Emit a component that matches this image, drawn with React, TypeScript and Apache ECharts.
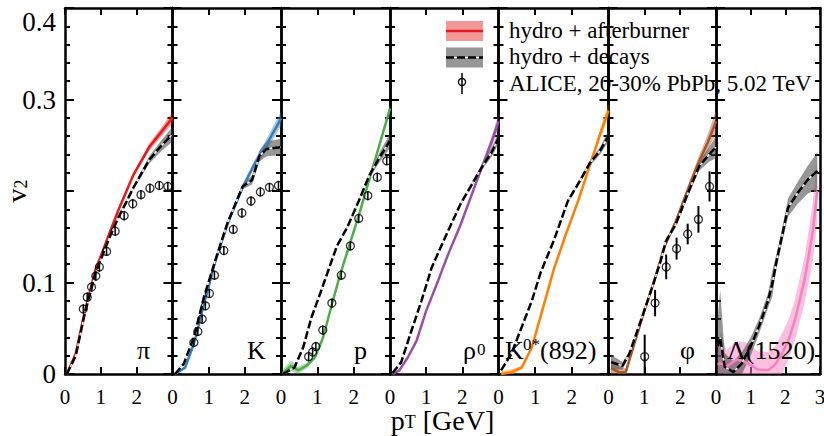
import React, { useEffect, useRef } from 'react';
import * as echarts from 'echarts';

const FONT = "'Liberation Serif', 'Times New Roman', serif";

// ---------- data (pT in GeV, v2) ----------
// pi
const piAbPt = [0.05, 0.3, 0.55, 0.85, 1.05, 1.25, 1.5, 1.9, 2.35, 2.7, 3.0];
const piAbV2 = [0.0, 0.022, 0.068, 0.114, 0.134, 0.155, 0.18, 0.217, 0.248, 0.265, 0.28];
const piAbErr = [0.001, 0.001, 0.001, 0.001, 0.001, 0.002, 0.002, 0.002, 0.004, 0.005, 0.006];
const piDcPt = [0.05, 0.3, 0.55, 0.85, 1.05, 1.25, 1.5, 1.7, 1.9, 2.35, 2.7, 3.0];
const piDcV2 = [0.0, 0.02, 0.066, 0.11, 0.13, 0.15, 0.172, 0.187, 0.203, 0.234, 0.25, 0.262];
const piDcErr = [0.001, 0.001, 0.001, 0.001, 0.001, 0.001, 0.002, 0.002, 0.002, 0.004, 0.006, 0.008];
const piDataPt = [0.51, 0.62, 0.74, 0.86, 0.96, 1.16, 1.4, 1.65, 1.89, 2.12, 2.37, 2.63, 2.87];
const piDataV2 = [0.071, 0.084, 0.095, 0.107, 0.117, 0.134, 0.156, 0.173, 0.186, 0.196, 0.203, 0.206, 0.205];
const piDataErr = [0.005, 0.005, 0.005, 0.005, 0.005, 0.005, 0.005, 0.005, 0.005, 0.005, 0.005, 0.005, 0.005];

// K
const kAbPt = [0.07, 0.35, 0.59, 0.87, 1.19, 1.52, 1.94, 2.26, 2.59, 3.0];
const kAbV2 = [0.0, 0.007, 0.033, 0.076, 0.124, 0.164, 0.204, 0.229, 0.25, 0.279];
const kAbErr = [0.001, 0.001, 0.001, 0.001, 0.001, 0.002, 0.003, 0.004, 0.006, 0.008];
const kDcPt = [0.07, 0.31, 0.59, 0.87, 1.19, 1.52, 1.94, 2.2, 2.4, 2.6, 3.0];
const kDcV2 = [0.0, 0.011, 0.04, 0.084, 0.125, 0.165, 0.205, 0.212, 0.238, 0.246, 0.248];
const kDcErr = [0.001, 0.001, 0.001, 0.001, 0.001, 0.002, 0.003, 0.005, 0.006, 0.008, 0.009];
const kDataPt = [0.59, 0.7, 0.82, 0.91, 1.02, 1.16, 1.42, 1.68, 1.92, 2.17, 2.43, 2.68, 2.93];
const kDataV2 = [0.0345, 0.0465, 0.06, 0.0745, 0.088, 0.108, 0.135, 0.158, 0.176, 0.189, 0.199, 0.204, 0.206];
const kDataErr = [0.005, 0.005, 0.005, 0.005, 0.005, 0.005, 0.005, 0.005, 0.005, 0.005, 0.005, 0.005, 0.005];

// p
const pAbPt = [0.05, 0.28, 0.47, 0.7, 0.93, 1.16, 1.4, 1.63, 1.91, 2.19, 2.42, 2.7, 3.0];
const pAbV2 = [0.001, 0.009, 0.004, 0.009, 0.018, 0.04, 0.076, 0.109, 0.144, 0.18, 0.211, 0.249, 0.29];
const pAbErr = [0.004, 0.006, 0.004, 0.003, 0.002, 0.001, 0.001, 0.001, 0.001, 0.002, 0.002, 0.003, 0.004];
const pDcPt = [0.05, 0.37, 0.61, 0.84, 1.07, 1.3, 1.54, 1.82, 2.14, 2.42, 2.7, 3.0];
const pDcV2 = [0.0, 0.007, 0.029, 0.062, 0.087, 0.113, 0.14, 0.16, 0.189, 0.216, 0.236, 0.255];
const pDcErr = [0.001, 0.001, 0.001, 0.001, 0.001, 0.001, 0.001, 0.002, 0.002, 0.003, 0.005, 0.008];
const pDataPt = [0.76, 0.87, 0.96, 1.15, 1.4, 1.66, 1.91, 2.14, 2.39, 2.65, 2.91];
const pDataV2 = [0.019, 0.024, 0.03, 0.048, 0.0775, 0.108, 0.14, 0.17, 0.195, 0.215, 0.233];
const pDataErr = [0.005, 0.005, 0.005, 0.005, 0.005, 0.005, 0.005, 0.005, 0.005, 0.005, 0.005];

// rho0
const rhoAbPt = [0.07, 0.26, 0.49, 0.73, 1.0, 1.33, 1.61, 1.94, 2.26, 2.54, 2.82, 3.0];
const rhoAbV2 = [0.0, 0.004, 0.018, 0.036, 0.069, 0.102, 0.131, 0.162, 0.196, 0.226, 0.255, 0.276];
const rhoAbErr = [0.001, 0.001, 0.001, 0.001, 0.001, 0.001, 0.001, 0.002, 0.002, 0.003, 0.006, 0.008];
const rhoDcPt = [0.07, 0.31, 0.59, 0.87, 1.15, 1.52, 1.94, 2.26, 2.54, 2.82, 3.0];
const rhoDcV2 = [0.001, 0.013, 0.047, 0.08, 0.116, 0.149, 0.185, 0.207, 0.226, 0.243, 0.258];
const rhoDcErr = [0.001, 0.001, 0.001, 0.001, 0.001, 0.001, 0.002, 0.002, 0.003, 0.005, 0.006];

// K0*(892)
const ksAbPt = [0.07, 0.35, 0.63, 0.91, 1.19, 1.52, 1.84, 2.17, 2.5, 2.77, 3.0];
const ksAbV2 = [0.0, 0.002, 0.007, 0.029, 0.069, 0.116, 0.153, 0.189, 0.229, 0.262, 0.288];
const ksAbErr = [0.003, 0.003, 0.002, 0.001, 0.001, 0.001, 0.001, 0.002, 0.003, 0.005, 0.007];
const ksDcPt = [0.07, 0.35, 0.63, 0.91, 1.15, 1.52, 1.89, 2.22, 2.5, 2.77, 3.0];
const ksDcV2 = [0.004, 0.022, 0.051, 0.08, 0.111, 0.147, 0.189, 0.211, 0.231, 0.244, 0.26];
const ksDcErr = [0.001, 0.001, 0.001, 0.001, 0.001, 0.001, 0.002, 0.002, 0.003, 0.004, 0.006];

// phi
const phiAbPt = [0.07, 0.3, 0.48, 0.72, 1.0, 1.28, 1.55, 1.88, 2.16, 2.49, 2.77, 3.0];
const phiAbV2 = [0.006, 0.002, 0.002, 0.033, 0.069, 0.102, 0.138, 0.167, 0.196, 0.229, 0.253, 0.276];
const phiAbErr = [0.01, 0.006, 0.004, 0.002, 0.002, 0.002, 0.002, 0.003, 0.004, 0.006, 0.009, 0.012];
const phiDcPt = [0.07, 0.39, 0.58, 0.9, 1.23, 1.46, 1.6, 1.88, 2.2, 2.53, 2.81, 3.0];
const phiDcV2 = [0.013, 0.009, 0.022, 0.058, 0.096, 0.124, 0.145, 0.164, 0.196, 0.227, 0.24, 0.248];
const phiDcErr = [0.008, 0.004, 0.002, 0.002, 0.002, 0.002, 0.002, 0.003, 0.004, 0.005, 0.008, 0.012];
const phiDataPt = [1.01, 1.3, 1.61, 1.9, 2.21, 2.51, 2.82];
const phiDataV2 = [0.019, 0.0775, 0.117, 0.137, 0.153, 0.169, 0.205];
const phiDataErr = [0.024, 0.0145, 0.0135, 0.012, 0.0113, 0.0145, 0.0165];

// Lambda(1520)
const laAbPt = [0.05, 0.12, 0.3, 0.6, 0.9, 1.2, 1.5, 1.7, 1.9, 2.1, 2.27, 2.55, 2.79, 2.92];
const laAbV2 = [0.01, 0.012, 0.008, 0.016, 0.012, 0.005, 0.004, 0.01, 0.022, 0.038, 0.058, 0.102, 0.155, 0.2];
const laAbErr = [0.015, 0.035, 0.018, 0.02, 0.022, 0.02, 0.02, 0.02, 0.022, 0.022, 0.022, 0.025, 0.032, 0.035];
const laDcPt = [0.05, 0.12, 0.25, 0.5, 0.75, 1.0, 1.25, 1.5, 1.62, 1.75, 1.9, 2.08, 2.36, 2.64, 2.92];
const laDcV2 = [0.03, 0.04, 0.008, 0.002, 0.012, 0.03, 0.053, 0.08, 0.098, 0.124, 0.15, 0.182, 0.198, 0.212, 0.222];
const laDcErr = [0.03, 0.052, 0.015, 0.012, 0.012, 0.01, 0.008, 0.008, 0.014, 0.008, 0.008, 0.01, 0.012, 0.015, 0.02];

const lineColors = ['#e41a1c', '#377eb8', '#4daf4a', '#984ea3', '#ff7f00', '#a65628', '#f781bf'];
const bandColors = [
  'rgba(228,26,28,0.45)', 'rgba(55,126,184,0.45)', 'rgba(77,175,74,0.45)', 'rgba(152,78,163,0.45)',
  'rgba(255,127,0,0.45)', 'rgba(166,86,40,0.45)', 'rgba(247,129,191,0.5)',
];
const grayBand = 'rgba(64,64,64,0.55)';

const xTickLabels = ['0', '1', '2', '3'];
const yLabelValues = [0, 0.1, 0.3, 0.4];
const yTickLabels = ['0', '0.1', '0.3', '0.4'];
const legendTexts = ['hydro + afterburner', 'hydro + decays', 'ALICE, 20-30% PbPb, 5.02 TeV'];

// layout (pixels)
const panelLefts = [65, 172.5, 281, 390, 498.5, 608.5, 716];
const panelRightEnd = 820;

type Set = { pt: number[]; v2: number[]; err: number[] };
type Panel = { ab: Set; dc: Set; data: Set | null };

const panels: Panel[] = [
  { ab: { pt: piAbPt, v2: piAbV2, err: piAbErr }, dc: { pt: piDcPt, v2: piDcV2, err: piDcErr }, data: { pt: piDataPt, v2: piDataV2, err: piDataErr } },
  { ab: { pt: kAbPt, v2: kAbV2, err: kAbErr }, dc: { pt: kDcPt, v2: kDcV2, err: kDcErr }, data: { pt: kDataPt, v2: kDataV2, err: kDataErr } },
  { ab: { pt: pAbPt, v2: pAbV2, err: pAbErr }, dc: { pt: pDcPt, v2: pDcV2, err: pDcErr }, data: { pt: pDataPt, v2: pDataV2, err: pDataErr } },
  { ab: { pt: rhoAbPt, v2: rhoAbV2, err: rhoAbErr }, dc: { pt: rhoDcPt, v2: rhoDcV2, err: rhoDcErr }, data: null },
  { ab: { pt: ksAbPt, v2: ksAbV2, err: ksAbErr }, dc: { pt: ksDcPt, v2: ksDcV2, err: ksDcErr }, data: null },
  { ab: { pt: phiAbPt, v2: phiAbV2, err: phiAbErr }, dc: { pt: phiDcPt, v2: phiDcV2, err: phiDcErr }, data: { pt: phiDataPt, v2: phiDataV2, err: phiDataErr } },
  { ab: { pt: laAbPt, v2: laAbV2, err: laAbErr }, dc: { pt: laDcPt, v2: laDcV2, err: laDcErr }, data: null },
];

function txt(x: number, y: number, text: string, size: number, extra: any = {}) {
  return {
    type: 'text',
    x,
    y,
    silent: true,
    z: 10,
    style: {
      text,
      fontSize: size,
      fontFamily: FONT,
      fill: '#000',
      align: 'left',
      textAlign: 'left',
      verticalAlign: 'middle',
      textVerticalAlign: 'middle',
      ...extra,
    },
  };
}

function buildOption() {
  const grid: any[] = [];
  const xAxis: any[] = [];
  const yAxis: any[] = [];
  const series: any[] = [];
  const axisLine = { show: true, onZero: false, lineStyle: { color: '#000', width: 2.5 } };

  panels.forEach((p, i) => {
    const left = panelLefts[i];
    const right = i < 6 ? panelLefts[i + 1] : panelRightEnd;
    grid.push({ left, top: 8, width: right - left, height: 366, containLabel: false, outerBoundsMode: 'none' });
    const baseX = {
      type: 'value', gridIndex: i, min: 0, max: 3, interval: 1,
      axisLine, splitLine: { show: false },
      axisTick: { show: true, inside: true, length: 7, lineStyle: { color: '#000', width: 2 } },
    };
    xAxis.push({
      ...baseX, position: 'bottom',
      axisLabel: {
        show: true, fontSize: 21, lineHeight: 18, color: '#000', fontFamily: FONT, margin: 14,
        showMinLabel: true, showMaxLabel: i === 6,
        formatter: (v: number) => xTickLabels[Math.round(v)],
      },
    });
    xAxis.push({ ...baseX, position: 'top', axisLabel: { show: false } });
    const baseY = {
      type: 'value', gridIndex: i, min: 0, max: 0.4, interval: 0.1,
      axisLine, splitLine: { show: false }, minorSplitLine: { show: false },
      axisTick: { show: true, inside: true, length: 9, lineStyle: { color: '#000', width: 2 } },
      minorTick: { show: true, splitNumber: 5, length: 5, lineStyle: { color: '#000', width: 2 } },
    };
    yAxis.push({
      ...baseY, position: 'left',
      ...(i === 0
        ? {
            name: '{a|v}{b|2}',
            nameLocation: 'middle',
            nameRotate: 90,
            nameGap: 35.5,
            nameMoveOverlap: false,
            nameTextStyle: {
              color: '#000',
              fontFamily: FONT,
              rich: {
                a: { fontSize: 28, lineHeight: 26, fontFamily: FONT, color: '#000' },
                b: { fontSize: 18, lineHeight: 10, fontFamily: FONT, color: '#000', verticalAlign: 'bottom' },
              },
            },
          }
        : {}),
      axisLabel: i === 0
        ? {
            show: true, fontSize: 27, color: '#000', fontFamily: FONT, margin: 9,
            customValues: yLabelValues,
            verticalAlignMaxLabel: 'top',
            formatter: (v: number) => {
              const idx = yLabelValues.findIndex((u) => Math.abs(u - v) < 1e-9);
              return idx >= 0 ? yTickLabels[idx] : '';
            },
          }
        : { show: false },
    });
    yAxis.push({ ...baseY, position: 'right', axisLabel: { show: false } });

    const xi = 2 * i;
    const band = (s: Set, color: string) => ({
      type: 'custom', xAxisIndex: xi, yAxisIndex: xi, silent: true, z: 1, clip: true,
      encode: { x: 0, y: 1 },
      data: s.pt.map((x, k) => [x, s.v2[k] - s.err[k], s.v2[k] + s.err[k]]),
      renderItem: (params: any, api: any) => {
        if (params.dataIndex !== 0) return null;
        const upper = s.pt.map((x, k) => api.coord([x, s.v2[k] + s.err[k]]));
        const lower = s.pt.map((x, k) => api.coord([x, s.v2[k] - s.err[k]])).reverse();
        return { type: 'polygon', shape: { points: upper.concat(lower) }, style: { fill: color } };
      },
    });
    series.push(band(p.ab, bandColors[i]));
    series.push(band(p.dc, grayBand));
    series.push({
      type: 'line', xAxisIndex: xi, yAxisIndex: xi, symbol: 'none', silent: true, z: 2,
      lineStyle: { color: lineColors[i], width: 2.5 },
      data: p.ab.pt.map((x, k) => [x, p.ab.v2[k]]),
    });
    series.push({
      type: 'line', xAxisIndex: xi, yAxisIndex: xi, symbol: 'none', silent: true, z: 3,
      lineStyle: { color: '#ffffff', width: 1.2 },
      data: p.dc.pt.map((x, k) => [x, p.dc.v2[k]]),
    });
    series.push({
      type: 'line', xAxisIndex: xi, yAxisIndex: xi, symbol: 'none', silent: true, z: 3,
      lineStyle: { color: '#000', width: 2.5, type: [8, 3] },
      data: p.dc.pt.map((x, k) => [x, p.dc.v2[k]]),
    });
    if (p.data) {
      const d = p.data;
      series.push({
        type: 'custom', xAxisIndex: xi, yAxisIndex: xi, silent: true, z: 4, clip: true,
        encode: { x: 0, y: 1 },
        data: d.pt.map((x, k) => [x, d.v2[k], d.err[k]]),
        renderItem: (_params: any, api: any) => {
          const x = api.value(0);
          const y = api.value(1);
          const e = api.value(2);
          const a = api.coord([x, y - e]);
          const b = api.coord([x, y + e]);
          return {
            type: 'line',
            shape: { x1: a[0], y1: a[1], x2: b[0], y2: b[1] },
            style: { stroke: '#000', lineWidth: i === 5 ? 2 : 1.5 },
          };
        },
      });
      series.push({
        type: 'scatter', xAxisIndex: xi, yAxisIndex: xi, silent: true, z: 5,
        symbol: 'circle', symbolSize: 8,
        itemStyle: { color: 'rgba(255,255,255,0)', borderColor: '#000', borderWidth: 1.3 },
        data: d.pt.map((x, k) => [x, d.v2[k]]),
      });
    }
  });

  const richBase = { fontFamily: FONT, fill: '#000' };
  const graphic: any[] = [
    // legend
    { type: 'rect', shape: { x: 446, y: 21, width: 37, height: 20 }, style: { fill: bandColors[0] }, z: 10 },
    { type: 'line', shape: { x1: 446, y1: 31, x2: 483, y2: 31 }, style: { stroke: lineColors[0], lineWidth: 2.5 }, z: 10 },
    { type: 'rect', shape: { x: 446, y: 47.5, width: 37, height: 20 }, style: { fill: grayBand }, z: 10 },
    { type: 'line', shape: { x1: 446, y1: 57.5, x2: 483, y2: 57.5 }, style: { stroke: '#fff', lineWidth: 1.2 }, z: 10 },
    { type: 'line', shape: { x1: 446, y1: 57.5, x2: 483, y2: 57.5 }, style: { stroke: '#000', lineWidth: 2.5, lineDash: [8, 3] }, z: 10 },
    { type: 'line', shape: { x1: 462, y1: 73, x2: 462, y2: 94 }, style: { stroke: '#000', lineWidth: 1.5 }, z: 10 },
    { type: 'circle', shape: { cx: 462, cy: 82, r: 3.6 }, style: { fill: 'rgba(255,255,255,0)', stroke: '#000', lineWidth: 1.3 }, z: 10 },
    txt(509, 30, legendTexts[0], 23),
    txt(509, 56.5, legendTexts[1], 23),
    txt(509, 83, legendTexts[2], 23),
    // panel labels
    txt(137, 350.7, 'π', 26),
    txt(247, 350.7, 'K', 26),
    txt(354, 350.7, 'p', 26),
    txt(463, 350.7, 'ρ', 26),
    txt(477, 349.5, '0', 17),
    txt(505, 350.7, 'K', 26),
    txt(523, 344, '0*', 17),
    txt(540, 350.7, '(892)', 26),
    txt(680, 350.7, 'φ', 26),
    txt(727, 350.7, 'Λ(1520)', 26),
    // x axis title
    {
      type: 'text', x: 442.5, y: 420, silent: true, z: 10,
      style: {
        text: '{a|p}{b|T}{a| [GeV]}',
        align: 'center', textAlign: 'center', verticalAlign: 'middle', textVerticalAlign: 'middle',
        fill: '#000', fontFamily: FONT, fontSize: 28,
        rich: {
          a: { ...richBase, fontSize: 28, lineHeight: 22 },
          b: { ...richBase, fontSize: 18, lineHeight: 16, verticalAlign: 'bottom' },
        },
      },
    },
  ];

  return {
    animation: false,
    backgroundColor: '#ffffff',
    textStyle: { fontFamily: FONT },
    grid,
    xAxis,
    yAxis,
    series,
    graphic,
  };
}

export default function App() {
  const ref = useRef<HTMLDivElement>(null);
  useEffect(() => {
    document.body.style.margin = '0';
    if (!ref.current) return;
    const chart = echarts.init(ref.current, undefined, { renderer: 'svg' });
    chart.setOption(buildOption() as any);
    return () => chart.dispose();
  }, []);
  return (
    <div
      ref={ref}
      style={{ width: 824, height: 436, position: 'absolute', left: 0, top: 0, background: '#fff' }}
    />
  );
}
